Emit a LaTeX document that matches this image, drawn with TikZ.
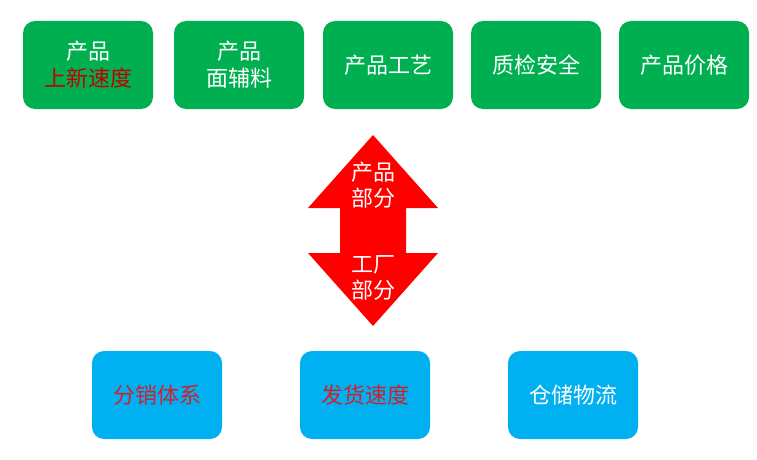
\documentclass[tikz,border=0pt]{standalone}
\usepackage{fontspec}
\setmainfont{Noto Sans CJK SC}
\definecolor{boxgreen}{HTML}{00B050}
\definecolor{boxblue}{HTML}{00B0F0}
\definecolor{txtred}{HTML}{C00000}
\definecolor{txtred2}{HTML}{D0202A}
\definecolor{arrred}{HTML}{FF0000}
\tikzset{
  gbox/.style={fill=boxgreen, rounded corners=12pt, minimum width=130pt, minimum height=88pt, inner sep=0pt, text=white, font=\fontsize{22pt}{27pt}\selectfont, align=center},
  bbox/.style={fill=boxblue, rounded corners=12pt, minimum width=130pt, minimum height=88pt, inner sep=0pt, text=white, font=\fontsize{22pt}{27pt}\selectfont, align=center},
  arrtxt/.style={text=white, font=\fontsize{22pt}{26pt}\selectfont, align=center, inner sep=0pt}
}
\begin{document}
\begin{tikzpicture}[x=1pt,y=-1pt]
\useasboundingbox (0,0) rectangle (757,460);
\fill[white] (0,0) rectangle (757,460);
% top boxes
\node[gbox] (t1) at (88,65) {产品\\\textcolor{txtred}{上新速度}};
\node[gbox] (t2) at (239,65) {产品\\面辅料};
\node[gbox] (t3) at (388,65) {产品工艺};
\node[gbox] (t4) at (536,65) {质检安全};
\node[gbox] (t5) at (684,65) {产品价格};
% double arrow
\fill[arrred] (373,135) -- (438,208) -- (406,208) -- (406,253) -- (438,253) -- (373,326)
  -- (308,253) -- (340,253) -- (340,208) -- (308,208) -- cycle;
\node[arrtxt] (a1) at (373,185) {产品\\部分};
\node[arrtxt] (a2) at (373,278) {工厂\\部分};
% bottom boxes
\node[bbox] (b1) at (157,395) {\textcolor{txtred2}{分销体系}};
\node[bbox] (b2) at (365,395) {\textcolor{txtred2}{发货速度}};
\node[bbox] (b3) at (573,395) {仓储物流};
\end{tikzpicture}
\end{document}
